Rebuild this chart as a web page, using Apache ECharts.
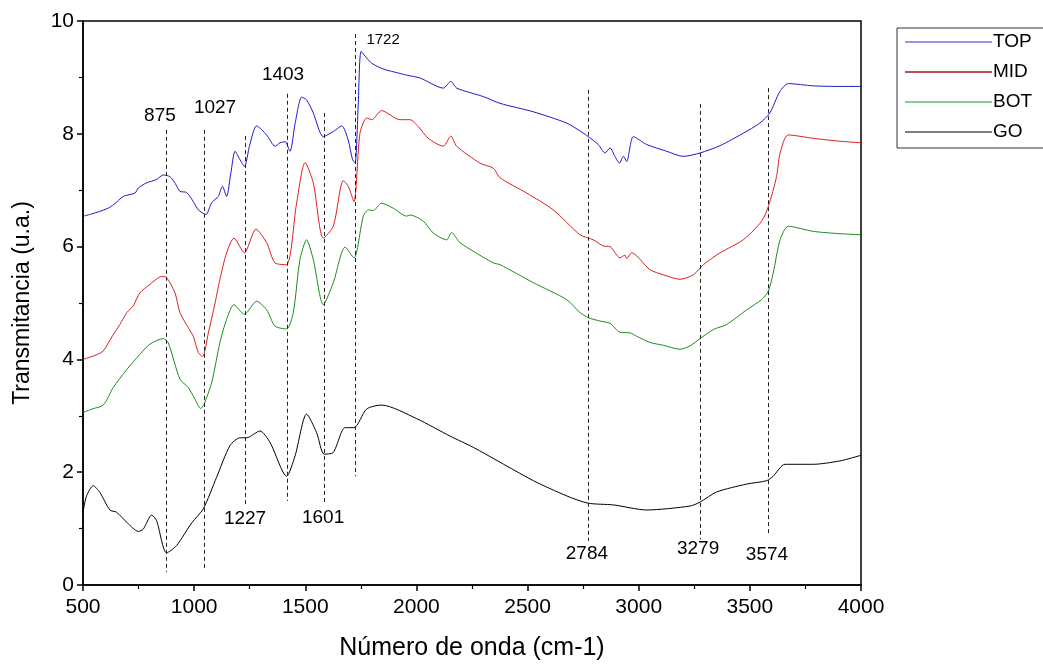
<!DOCTYPE html>
<html><head><meta charset="utf-8">
<script src="https://cdn.jsdelivr.net/npm/echarts@6/dist/echarts.min.js"></script>
<style>html,body{margin:0;padding:0;background:#fff}#c{width:1043px;height:666px}</style>
</head><body><div id="c"></div>
<script>
const seriesNames = ['TOP', 'MID', 'BOT', 'GO'];
const topData = [[501,6.54],[540,6.58],[607,6.67],[640,6.75],[681,6.89],[734,6.95],[749,7.04],[786,7.13],[831,7.19],[861,7.27],[891,7.24],[915,7.12],[936,6.98],[966,6.96],[996,6.80],[1019,6.65],[1053,6.57],[1079,6.78],[1109,6.89],[1127,7.07],[1146,6.89],[1165,7.30],[1184,7.69],[1205,7.55],[1226,7.42],[1250,7.80],[1281,8.14],[1326,7.98],[1364,7.78],[1386,7.84],[1409,7.86],[1431,7.69],[1455,8.20],[1484,8.65],[1506,8.60],[1536,8.37],[1581,7.95],[1626,8.04],[1664,8.14],[1693,7.89],[1712,7.55],[1724,7.48],[1738,8.50],[1751,9.46],[1775,9.35],[1799,9.25],[1850,9.15],[1926,9.07],[1956,9.04],[2016,8.99],[2121,8.81],[2155,8.93],[2181,8.81],[2301,8.66],[2376,8.54],[2526,8.39],[2676,8.19],[2736,8.05],[2773,7.95],[2818,7.81],[2848,7.66],[2871,7.75],[2893,7.60],[2913,7.48],[2931,7.60],[2946,7.51],[2976,7.95],[3036,7.81],[3126,7.69],[3200,7.60],[3276,7.66],[3366,7.79],[3470,8.01],[3545,8.19],[3590,8.37],[3635,8.75],[3673,8.89],[3785,8.85],[3900,8.84],[4000,8.84]];
const midData = [[501,4.00],[560,4.08],[591,4.15],[630,4.40],[666,4.62],[697,4.83],[726,4.95],[756,5.18],[801,5.33],[854,5.47],[876,5.45],[914,5.18],[936,4.83],[974,4.56],[996,4.41],[1019,4.12],[1038,4.05],[1064,4.47],[1094,5.00],[1116,5.42],[1146,5.89],[1179,6.15],[1226,5.89],[1278,6.31],[1326,6.07],[1364,5.71],[1416,5.68],[1461,6.77],[1499,7.49],[1536,7.13],[1581,6.15],[1626,6.36],[1671,7.17],[1693,7.07],[1719,6.80],[1746,8.01],[1776,8.28],[1799,8.25],[1843,8.41],[1926,8.25],[1971,8.25],[2008,8.13],[2053,7.92],[2121,7.78],[2155,7.96],[2181,7.78],[2286,7.48],[2346,7.39],[2376,7.22],[2496,6.95],[2616,6.65],[2736,6.21],[2796,6.12],[2841,6.01],[2871,6.00],[2916,5.80],[2938,5.85],[2946,5.79],[2968,5.89],[3051,5.59],[3111,5.50],[3186,5.42],[3246,5.50],[3291,5.68],[3366,5.89],[3470,6.12],[3553,6.45],[3583,6.71],[3620,7.24],[3636,7.66],[3673,7.98],[3785,7.92],[3900,7.87],[4000,7.84]];
const botData = [[501,3.06],[540,3.12],[591,3.19],[636,3.50],[697,3.82],[756,4.09],[801,4.27],[861,4.37],[884,4.29],[936,3.65],[974,3.50],[1004,3.29],[1029,3.13],[1044,3.20],[1079,3.59],[1116,4.30],[1146,4.71],[1179,4.97],[1226,4.80],[1281,5.03],[1326,4.88],[1364,4.59],[1416,4.54],[1446,4.83],[1476,5.77],[1506,6.12],[1536,5.77],[1581,4.97],[1626,5.36],[1679,5.99],[1719,5.80],[1761,6.54],[1784,6.65],[1806,6.64],[1843,6.77],[1896,6.68],[1956,6.54],[1971,6.56],[2031,6.45],[2076,6.24],[2136,6.12],[2158,6.25],[2196,6.07],[2346,5.71],[2376,5.68],[2526,5.36],[2676,5.06],[2736,4.83],[2773,4.74],[2826,4.68],[2871,4.64],[2916,4.48],[2961,4.47],[2991,4.41],[3051,4.30],[3111,4.25],[3186,4.18],[3231,4.24],[3276,4.37],[3336,4.53],[3396,4.62],[3486,4.88],[3553,5.06],[3583,5.21],[3605,5.53],[3636,6.12],[3673,6.36],[3785,6.27],[3900,6.23],[4000,6.21]];
const goData = [[500,1.29],[516,1.58],[546,1.76],[576,1.64],[621,1.33],[651,1.29],[700,1.10],[749,0.95],[771,0.99],[809,1.24],[831,1.14],[876,0.57],[921,0.70],[989,1.10],[1041,1.35],[1101,1.91],[1161,2.47],[1206,2.61],[1236,2.61],[1296,2.73],[1341,2.53],[1416,1.93],[1454,2.29],[1506,3.03],[1551,2.70],[1585,2.32],[1626,2.35],[1679,2.79],[1719,2.79],[1776,3.12],[1843,3.19],[2001,2.95],[2151,2.64],[2256,2.44],[2526,1.85],[2676,1.58],[2773,1.45],[2886,1.42],[3036,1.33],[3231,1.40],[3276,1.47],[3351,1.65],[3486,1.79],[3576,1.85],[3605,1.93],[3658,2.14],[3785,2.14],[3905,2.20],[4000,2.30]];
const peakX = [875, 1045, 1229, 1418, 1584, 1724, 2772, 3276, 3581];
const peakTop = [8.07, 8.07, 7.96, 8.71, 8.37, 9.77, 8.78, 8.53, 8.81];
const peakBottom = [0.23, 0.28, 1.43, 1.49, 1.47, 1.93, 0.78, 0.81, 0.87];
const labelText = ['875', '1027', '1403', '1722', '1227', '1601', '2784', '3279', '3574'];
const labelX = [846, 1094, 1400, 1850, 1229, 1580, 2767, 3267, 3577];
const labelY = [8.32, 8.46, 9.04, 9.66, 1.17, 1.19, 0.55, 0.64, 0.53];
const xTicks = [500, 1000, 1500, 2000, 2500, 3000, 3500, 4000];
const yTicks = [0, 2, 4, 6, 8, 10];

const colors = ['#1a1acc', '#dd1f1f', '#1b8c1b', '#000000'];
const legendColors = ['#7474dc', '#a01818', '#66bb66', '#555555'];
const font = 'Liberation Sans, Arial, sans-serif';
const chart = echarts.init(document.getElementById('c'));
const datas = [topData, midData, botData, goData];
const series = seriesNames.map((n, i) => ({
  name: n, type: 'line', data: datas[i], symbol: 'none', smooth: 0.25,
  lineStyle: {color: colors[i], width: 1}, itemStyle: {color: colors[i]}, z: 3
}));
series.push({
  name: 'peaks', type: 'line', data: [], symbol: 'none', silent: true,
  markLine: {
    silent: true, symbol: 'none', animation: false,
    lineStyle: {color: '#222', width: 1, type: [4, 3]},
    label: {show: false},
    data: peakX.map((x, i) => [{coord: [x, peakTop[i]]}, {coord: [x, peakBottom[i]]}])
  }
});
series.push({
  name: 'labels', type: 'scatter', symbolSize: 0, silent: true, z: 5,
  itemStyle: {opacity: 1},
  data: labelText.map((t, i) => ({
    value: [labelX[i], labelY[i]],
    itemStyle: {opacity: 1},
    label: {show: true, formatter: t, position: 'inside', color: '#000', opacity: 1,
      fontFamily: font, fontSize: t === '1722' ? 15 : 19}
  }))
});
chart.setOption({
  animation: false,
  backgroundColor: '#fff',
  grid: {left: 83, right: 182, top: 21, bottom: 80, show: true, borderColor: '#000', borderWidth: 1.5, backgroundColor: 'transparent'},
  legend: {
    orient: 'vertical', left: 897, top: 28, itemWidth: 87, itemHeight: 14, itemGap: 10,
    padding: [4, 40, 6, 8], borderColor: '#333', borderWidth: 1,
    textStyle: {fontFamily: font, fontSize: 19, lineHeight: 20, color: '#000', padding: [0, 0, 0, -4]},
    data: seriesNames.map((n, i) => ({name: n, icon: 'path://M0,0L100,0L100,1.5L0,1.5Z', itemStyle: {color: legendColors[i]}}))
  },
  xAxis: {
    type: 'value', min: xTicks[0], max: xTicks[xTicks.length - 1], interval: 500,
    name: 'Número de onda (cm-1)', nameLocation: 'middle', nameGap: 51,
    nameTextStyle: {fontFamily: font, fontSize: 25, color: '#000'},
    axisLine: {lineStyle: {color: '#000', width: 1.5}},
    axisTick: {show: true, length: 6, lineStyle: {color: '#000', width: 1.5}},
    minorTick: {show: true, splitNumber: 2, length: 4, lineStyle: {color: '#000', width: 1.2}},
    axisLabel: {fontFamily: font, fontSize: 21, color: '#000', margin: 12, formatter: v => String(v)},
    splitLine: {show: false}
  },
  yAxis: {
    type: 'value', min: yTicks[0], max: yTicks[yTicks.length - 1], interval: 2,
    name: 'Transmitancia (u.a.)', nameLocation: 'middle', nameGap: 49,
    nameTextStyle: {fontFamily: font, fontSize: 23, color: '#000'},
    axisLine: {lineStyle: {color: '#000', width: 1.5}},
    axisTick: {show: true, length: 6, lineStyle: {color: '#000', width: 1.5}},
    minorTick: {show: true, splitNumber: 2, length: 4, lineStyle: {color: '#000', width: 1.2}},
    axisLabel: {fontFamily: font, fontSize: 21, color: '#000', margin: 9, formatter: v => String(v)},
    splitLine: {show: false}
  },
  series: series
});
</script></body></html>
